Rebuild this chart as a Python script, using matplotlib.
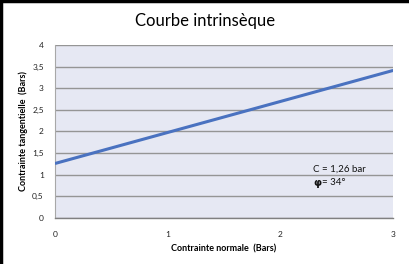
import matplotlib
matplotlib.use("Agg")
import matplotlib.pyplot as plt
from matplotlib.ticker import FuncFormatter

# data
sigma = [0, 3]           # contrainte normale (Bars)
tau = [1.26, 3.41]       # contrainte tangentielle (Bars)
x_ticks = [0, 1, 2, 3]
y_ticks = [0, 0.5, 1, 1.5, 2, 2.5, 3, 3.5, 4]
title = "Courbe intrinsèque"
label_c = "C = 1,26 bar"
label_phi = "= 34°"

plt.rcParams['font.family'] = ['Lato', 'DejaVu Sans']

fig = plt.figure(figsize=(4.1, 2.64), dpi=100)
ax = fig.add_axes([0.134, 0.174, 0.825, 0.656])

ax.set_facecolor('#E6E8F3')
ax.plot(sigma, tau, color='#4A72C0', linewidth=2.2, solid_capstyle='butt', zorder=3)

ax.set_xlim(0, 3)
ax.set_ylim(0, 4)
ax.set_xticks(x_ticks)
ax.set_yticks(y_ticks)
ax.yaxis.set_major_formatter(FuncFormatter(lambda v, p: ('%g' % v).replace('.', ',')))
ax.grid(axis='y', color='#959595', linewidth=1.0, zorder=1)
ax.tick_params(length=0, labelsize=6, colors='#222222')
ax.tick_params(axis='x', pad=9)
ax.tick_params(axis='y', pad=8)

for s in ['top', 'right']:
    ax.spines[s].set_visible(False)
ax.spines['left'].set_color('#A8A8A8')
ax.spines['bottom'].set_color('#808080')
ax.spines['bottom'].set_linewidth(1.0)

ax.set_xlabel("Contrainte normale  (Bars)", fontsize=6.5, fontweight='bold', labelpad=5)
ax.set_ylabel("Contrainte tangentielle  (Bars)", fontsize=6.5, fontweight='bold', labelpad=3)

fig.text(0.5, 0.92, title, ha='center', va='center', fontsize=12, color='black')

ax.text(2.29, 1.13, label_c, fontsize=7, color='#111111', va='center')
ax.text(2.29, 0.81, "φ", fontsize=7.5, fontweight='bold', color='#111111', va='center',
        family=['DejaVu Sans'])
ax.text(2.37, 0.81, label_phi, fontsize=7, color='#111111', va='center')

# black frame on left and top
fig.add_artist(plt.Line2D([0.002, 0.002], [0, 1], color='black', linewidth=2.5, transform=fig.transFigure))
fig.add_artist(plt.Line2D([0, 1], [0.997, 0.997], color='black', linewidth=2.5, transform=fig.transFigure))

fig.savefig("out.png", dpi=100)
